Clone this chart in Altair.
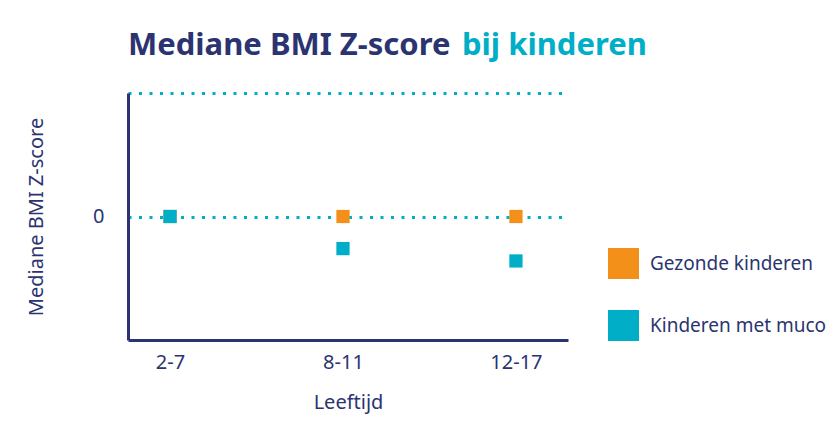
import json
import altair as alt
import pandas as pd

categories = ["2-7", "8-11", "12-17"]
healthy = [0.0, 0.0, 0.0]
cf = [0.0, -0.13, -0.18]
series_names = ["Gezonde kinderen", "Kinderen met muco"]

NAVY = "#2B3470"
TEAL = "#00AEC7"
ORANGE = "#F39019"
FONT = "Noto Sans"

rows = []
for i, c in enumerate(categories):
    rows.append({"idx": i, "cat": c, "value": healthy[i], "group": series_names[0], "order": 0})
for i, c in enumerate(categories):
    rows.append({"idx": i, "cat": c, "value": cf[i], "group": series_names[1], "order": 1})
df = pd.DataFrame(rows)

label_expr = json.dumps(categories) + "[datum.value]"

points = alt.Chart(df).mark_square(size=175, opacity=1).encode(
    x=alt.X("idx:Q",
            scale=alt.Scale(domain=[-0.243, 2.301], nice=False, zero=False),
            axis=alt.Axis(values=[0, 1, 2], labelExpr=label_expr, title="Leeftijd",
                          grid=False, ticks=False, labelPadding=12, titlePadding=20,
                          domainColor=NAVY, domainWidth=3)),
    y=alt.Y("value:Q",
            scale=alt.Scale(domain=[-0.5, 0.5], nice=False, zero=False),
            axis=alt.Axis(values=[0, 0.5], labelExpr="datum.value == 0 ? '0' : ''",
                          title="Mediane BMI Z-score", grid=True, gridColor=TEAL,
                          gridDash=[3, 7.5], gridWidth=3, ticks=False, labelPadding=24,
                          titlePadding=46, domainColor=NAVY, domainWidth=3)),
    color=alt.Color("group:N", scale=alt.Scale(domain=series_names, range=[ORANGE, TEAL]),
                    legend=alt.Legend(title=None, orient="none", legendX=480, legendY=155,
                                      symbolType="square", symbolSize=961,
                                      symbolStrokeWidth=0, labelFontSize=19,
                                      labelColor=NAVY, labelFont=FONT, rowPadding=31,
                                      labelOffset=11, symbolOpacity=1, labelLimit=400)),
    order=alt.Order("order:Q"),
)

t1 = alt.Chart(pd.DataFrame({"t": ["Mediane BMI Z-score"]})).mark_text(
    align="left", baseline="alphabetic", font=FONT, fontSize=31, fontWeight="bold", color=NAVY
).encode(text="t:N", x=alt.value(0), y=alt.value(-38))

t2 = alt.Chart(pd.DataFrame({"t": ["bij kinderen"]})).mark_text(
    align="left", baseline="alphabetic", font=FONT, fontSize=31, fontWeight="bold", color=TEAL
).encode(text="t:N", x=alt.value(334), y=alt.value(-38))

chart = alt.layer(points, t1, t2).properties(
    width=440, height=247,
    padding={"left": 120, "top": 85, "right": 264, "bottom": 84},
    autosize=alt.AutoSizeParams(type="none"),
    background="white",
).configure_view(stroke=None).configure_axis(
    labelFont=FONT, titleFont=FONT, labelFontSize=20, titleFontSize=20,
    labelColor=NAVY, titleColor=NAVY, titleFontWeight="normal",
)

chart.save("out.html", embed_options={"renderer": "svg", "actions": False})
